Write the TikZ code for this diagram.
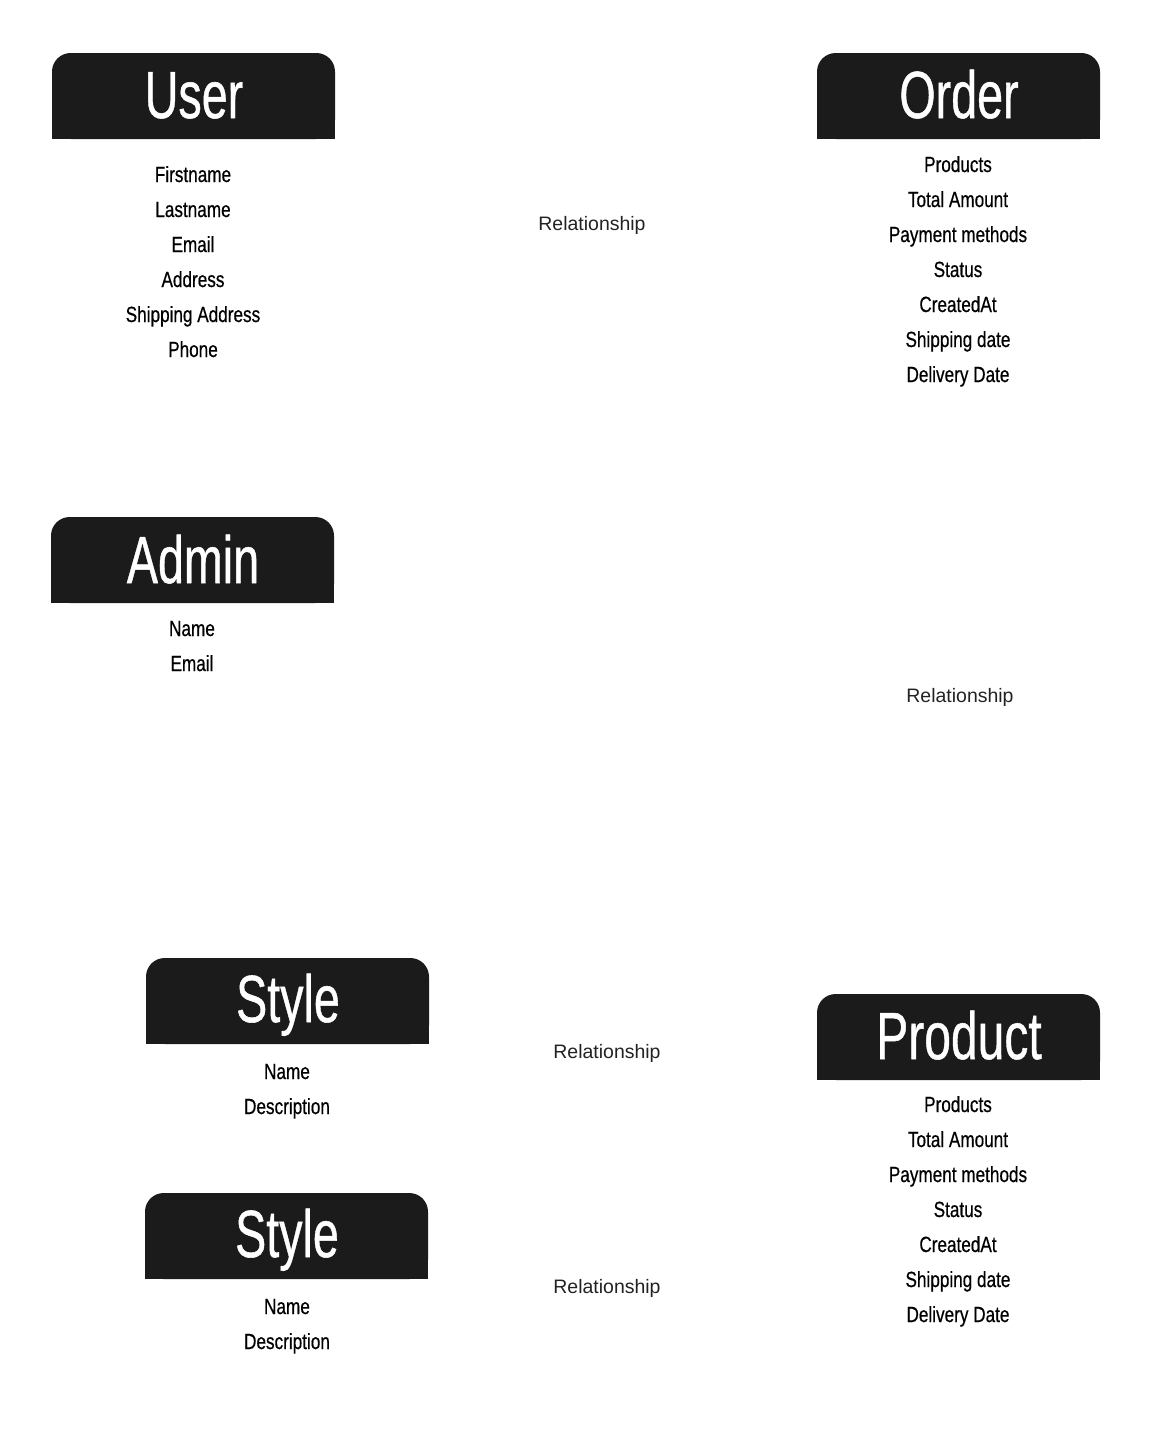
\documentclass[tikz,border=0pt]{standalone}
\usepackage{fontspec}
\setmainfont{Liberation Sans}
\newfontfamily\attrfont[FakeBold=0.6]{Liberation Sans}
\newfontfamily\hdrfont[FakeBold=0.8]{Liberation Sans}
\definecolor{hdr}{HTML}{1B1B1B}
\definecolor{reltxt}{HTML}{222222}
\newcommand\condtxt[2]{\scalebox{#1}[1]{#2}}
\tikzset{
  hdrtitle/.style={anchor=base, inner sep=0pt, text=white, font=\hdrfont\fontsize{50}{60}\selectfont},
  attr/.style={anchor=base, inner sep=0pt, text=black, font=\attrfont\fontsize{16.5}{20}\selectfont},
  rel/.style={anchor=base, inner sep=0pt, text=reltxt, font=\fontsize{14.6}{18}\selectfont},
}
\newcommand\hdrbox[4]{% x1 y1 x2 y2
  \fill[hdr, rounded corners=14pt] (#1,#2) rectangle (#3,#4);
  \fill[hdr] (#1,#2+25) rectangle (#3,#4);
}
\begin{document}
\begin{tikzpicture}[x=0.75pt,y=-0.75pt]
\useasboundingbox (0,0) rectangle (1151,1436);
% User
\hdrbox{52}{53}{335}{139}
\node[hdrtitle] (user) at (194,118) {\condtxt{0.7}{User}};
\foreach \t [count=\i] in {Firstname,Lastname,Email,Address,Shipping Address,Phone}
  \node[attr] (user-\i) at (193,{182+35*(\i-1)}) {\condtxt{0.78}{\t}};
% Order
\hdrbox{817}{53}{1100}{139}
\node[hdrtitle] (order) at (959,118) {\condtxt{0.7}{Order}};
\foreach \t [count=\i] in {Products,Total Amount,Payment methods,Status,CreatedAt,Shipping date,Delivery Date}
  \node[attr] (order-\i) at (958,{172+35*(\i-1)}) {\condtxt{0.78}{\t}};
% Admin
\hdrbox{51}{517}{334}{603}
\node[hdrtitle] (admin) at (193,583) {\condtxt{0.7}{Admin}};
\foreach \t [count=\i] in {Name,Email}
  \node[attr] (admin-\i) at (192,{636+35*(\i-1)}) {\condtxt{0.78}{\t}};
% Style 1
\hdrbox{146}{958}{429}{1044}
\node[hdrtitle] (style) at (288,1022) {\condtxt{0.7}{Style}};
\foreach \t [count=\i] in {Name,Description}
  \node[attr] (style-\i) at (287,{1079+35*(\i-1)}) {\condtxt{0.78}{\t}};
% Style 2
\hdrbox{145}{1193}{428}{1279}
\node[hdrtitle] (styleb) at (287,1257) {\condtxt{0.7}{Style}};
\foreach \t [count=\i] in {Name,Description}
  \node[attr] (styleb-\i) at (287,{1314+35*(\i-1)}) {\condtxt{0.78}{\t}};
% Product
\hdrbox{817}{994}{1100}{1080}
\node[hdrtitle] (product) at (959,1059) {\condtxt{0.72}{Product}};
\foreach \t [count=\i] in {Products,Total Amount,Payment methods,Status,CreatedAt,Shipping date,Delivery Date}
  \node[attr] (product-\i) at (958,{1112+35*(\i-1)}) {\condtxt{0.78}{\t}};
% Relationships
\node[rel] (rel1) at (592,230) {Relationship};
\node[rel] (rel2) at (960,702) {Relationship};
\node[rel] (rel3) at (607,1058) {Relationship};
\node[rel] (rel4) at (607,1293) {Relationship};
\end{tikzpicture}
\end{document}
